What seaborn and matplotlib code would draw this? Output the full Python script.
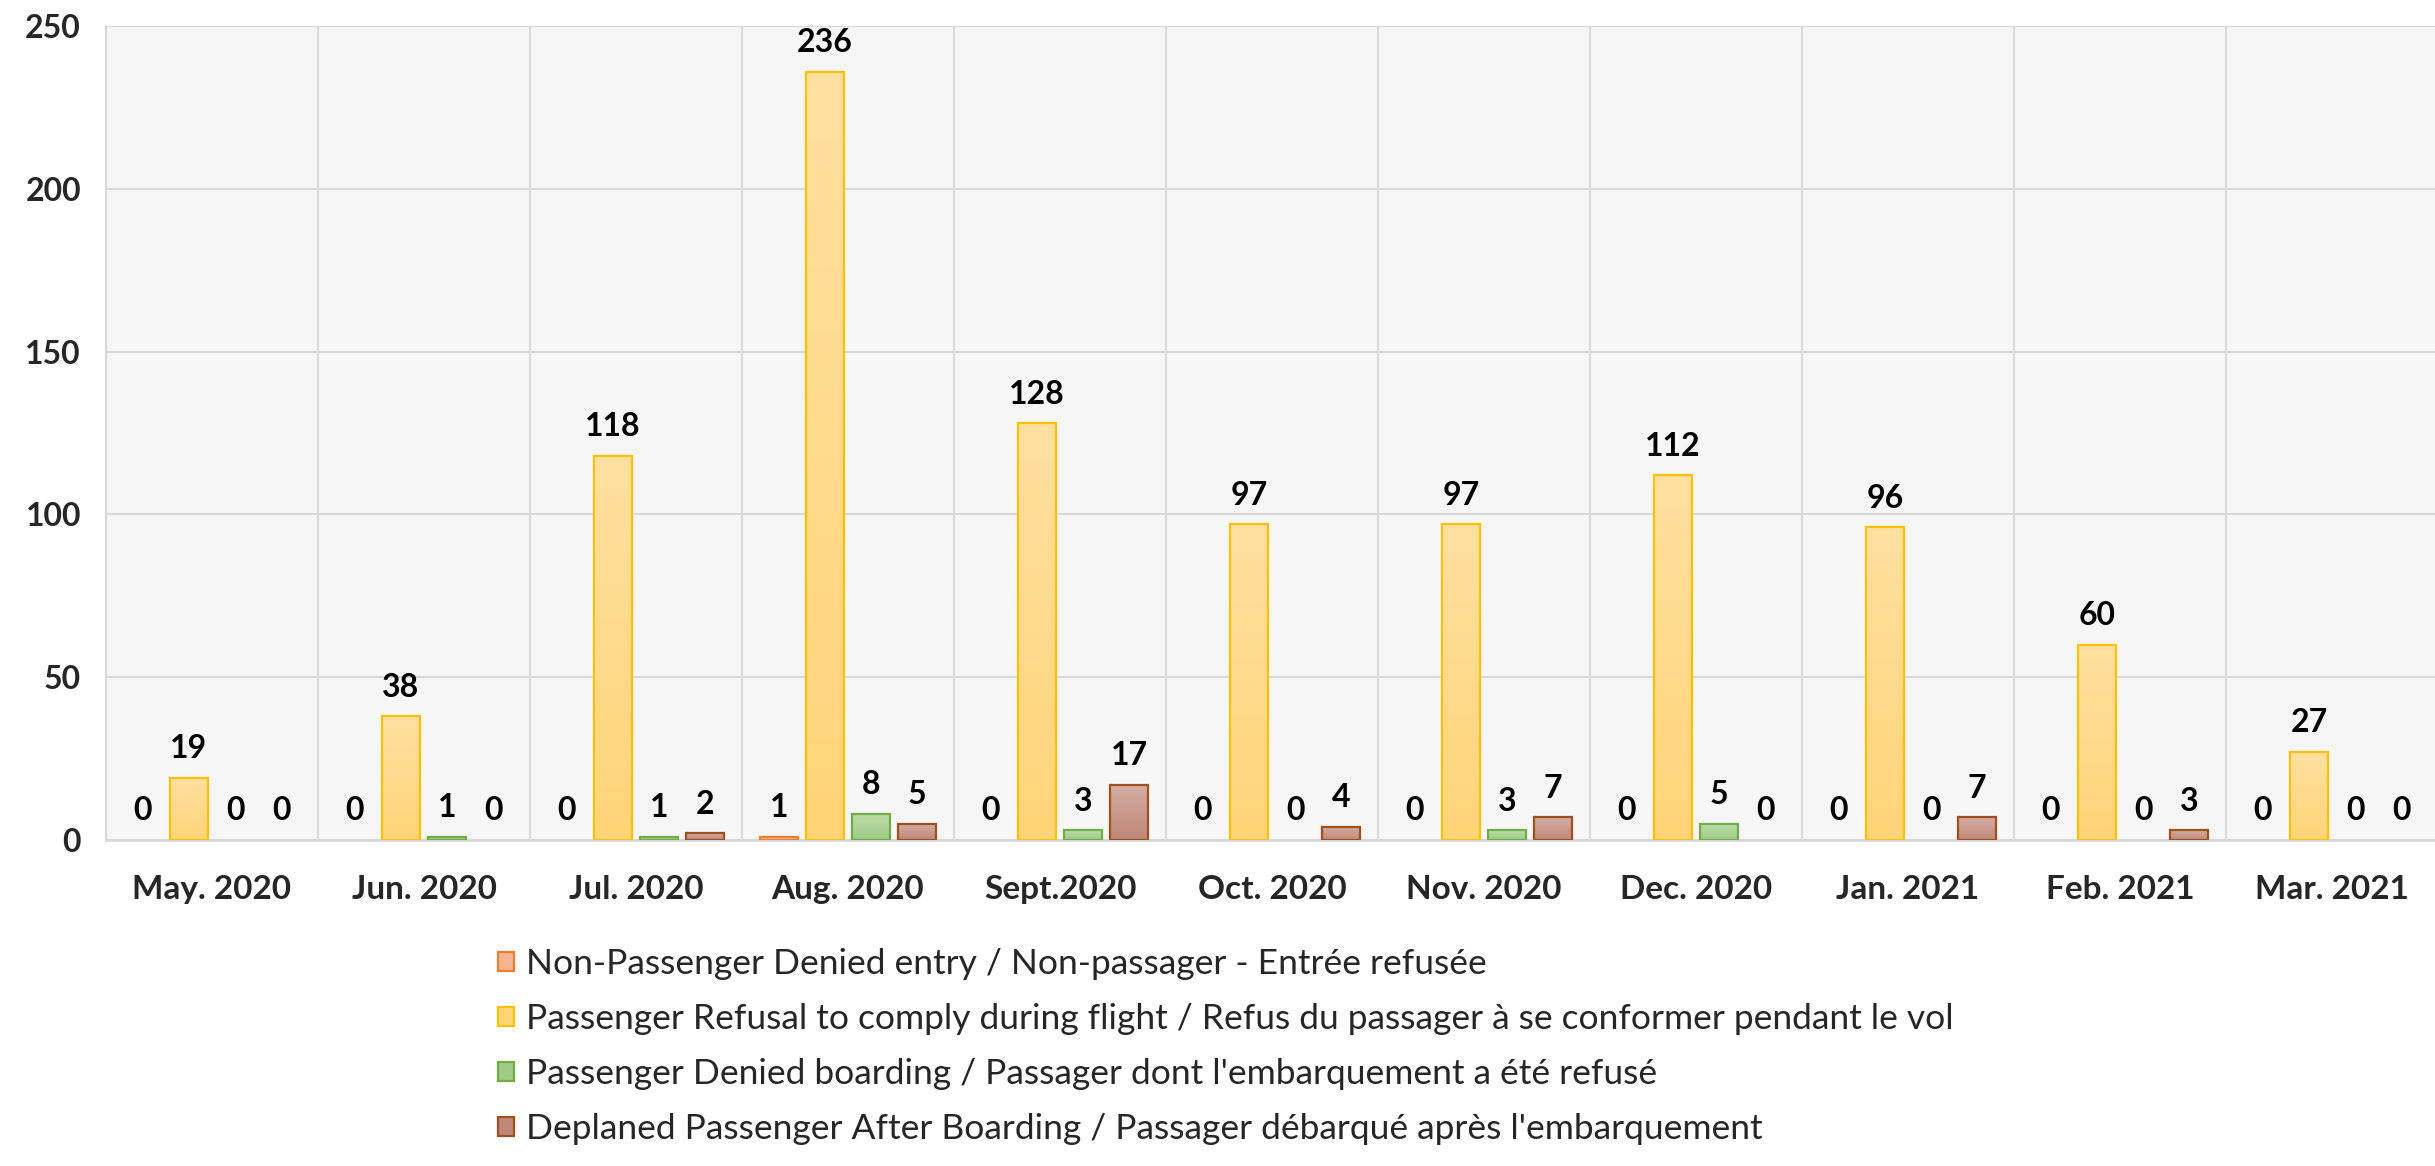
import numpy as np
import pandas as pd
import seaborn as sns
import matplotlib
matplotlib.use('Agg')
import matplotlib.pyplot as plt
from matplotlib.patches import Patch
from matplotlib.colors import LinearSegmentedColormap

months = ['May. 2020', 'Jun. 2020', 'Jul. 2020', 'Aug. 2020', 'Sept.2020', 'Oct. 2020',
          'Nov. 2020', 'Dec. 2020', 'Jan. 2021', 'Feb. 2021', 'Mar. 2021']
non_passenger = [0, 0, 0, 1, 0, 0, 0, 0, 0, 0, 0]
refusal = [19, 38, 118, 236, 128, 97, 97, 112, 96, 60, 27]
denied_boarding = [0, 1, 1, 8, 3, 0, 3, 5, 0, 0, 0]
deplaned = [0, 0, 2, 5, 17, 4, 7, 0, 7, 3, 0]

series_names = [
    'Non-Passenger Denied entry / Non-passager - Entrée refusée',
    'Passenger Refusal to comply during flight / Refus du passager à se conformer pendant le vol',
    "Passenger Denied boarding / Passager dont l'embarquement a été refusé",
    "Deplaned Passenger After Boarding / Passager débarqué après l'embarquement",
]
# (top colour, bottom colour, edge colour)
styles = [
    ('#fbd0b8', '#f6b38f', '#ed7d31'),
    ('#ffe0a0', '#ffd478', '#ffc000'),
    ('#bcdda8', '#a0cb86', '#70ad47'),
    ('#d4aea4', '#bf8878', '#a0501e'),
]

rows = []
for name, vals in zip(series_names, [non_passenger, refusal, denied_boarding, deplaned]):
    for m, v in zip(months, vals):
        rows.append({'month': m, 'count': v, 'type': name})
df = pd.DataFrame(rows)

sns.set_style('white')
plt.rcParams['font.family'] = ['Lato', 'DejaVu Sans']

fig = plt.figure(figsize=(24.35, 11.66), dpi=100)
ax = fig.add_axes([106 / 2435, 1 - 840 / 1166, 2332 / 2435, 814 / 1166])
ax.set_facecolor('#f6f6f6')

sns.barplot(data=df, x='month', y='count', hue='type', order=months, hue_order=series_names,
            palette=[s[1] for s in styles], width=0.87, gap=0.17, legend=False, ax=ax,
            zorder=3, errorbar=None)

for cont, (top, bot, edge) in zip(ax.containers, styles):
    cmap = LinearSegmentedColormap.from_list('g', [top, bot])
    grad = np.linspace(0, 1, 64).reshape(-1, 1)
    for p in cont.patches:
        x0, y0 = p.get_x(), p.get_y()
        w, h = p.get_width(), p.get_height()
        if h > 0:
            ax.imshow(grad, cmap=cmap, extent=[x0, x0 + w, y0, y0 + h], aspect='auto',
                      origin='upper', zorder=3, interpolation='bicubic')
            p.set_edgecolor(edge)
        else:
            p.set_edgecolor('none')
        p.set_facecolor('none')
        p.set_linewidth(1.6)
        p.set_zorder(4)
        ax.annotate(f'{int(h)}', (x0 + w / 2, y0 + h), xytext=(0, 21), textcoords='offset points',
                    ha='center', va='center', fontsize=23, fontweight='bold', color='black',
                    zorder=5)

ax.set_xlim(-0.5, len(months) - 0.5)
ax.set_ylim(0, 250)
ax.set_yticks(range(0, 251, 50))
ax.set_xticks(np.arange(0.5, len(months) - 0.5, 1), minor=True)
ax.grid(axis='y', which='major', color='#d9d9d9', linewidth=1.5, zorder=1)
ax.grid(axis='x', which='minor', color='#d9d9d9', linewidth=1.5, zorder=1)
ax.grid(axis='x', which='major', visible=False)
ax.set_axisbelow(True)
for s in ['top', 'right']:
    ax.spines[s].set_visible(False)
ax.spines['left'].set_color('#d9d9d9')
ax.spines['left'].set_linewidth(1.5)
ax.spines['bottom'].set_color('#d9d9d9')
ax.spines['bottom'].set_linewidth(2)
ax.tick_params(axis='y', length=0, pad=18, labelsize=23)
ax.tick_params(axis='x', which='both', length=0, pad=25, labelsize=24)
for lab in ax.get_xticklabels() + ax.get_yticklabels():
    lab.set_fontweight('bold')
ax.set_xlabel('')
ax.set_ylabel('')

handles = [Patch(facecolor=s[1], edgecolor=s[2], linewidth=1.6) for s in styles]
fig.legend(handles, series_names, loc='upper left', bbox_to_anchor=(498 / 2435, 1 - 948 / 1166),
           frameon=False, borderaxespad=0, borderpad=0, fontsize=25.5, handlelength=0.45,
           handleheight=0.45, handletextpad=0.35, labelspacing=0.65)

fig.savefig('out.png', dpi=100)
